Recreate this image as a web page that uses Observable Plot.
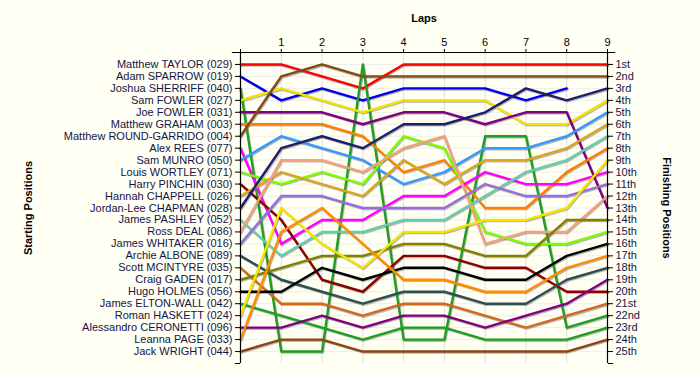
<!DOCTYPE html>
<html><head><meta charset="utf-8">
<script src="https://cdn.jsdelivr.net/npm/d3@7"></script>
<script src="https://cdn.jsdelivr.net/npm/@observablehq/plot@0.6"></script>
<style>
html,body{margin:0;padding:0;background:#fffff4;}
</style></head><body><div id="chart"></div>
<script>
const laps = [0,1,2,3,4,5,6,7,8,9];
const drivers = [
  "Matthew TAYLOR (029)","Adam SPARROW (019)","Joshua SHERRIFF (040)","Sam FOWLER (027)",
  "Joe FOWLER (031)","Matthew GRAHAM (003)","Matthew ROUND-GARRIDO (004)","Alex REES (077)",
  "Sam MUNRO (050)","Louis WORTLEY (071)","Harry PINCHIN (030)","Hannah CHAPPELL (026)",
  "Jordan-Lee CHAPMAN (028)","James PASHLEY (052)","Ross DEAL (086)","James WHITAKER (016)",
  "Archie ALBONE (089)","Scott MCINTYRE (035)","Craig GADEN (017)","Hugo HOLMES (056)",
  "James ELTON-WALL (042)","Roman HASKETT (024)","Alessandro CERONETTI (096)","Leanna PAGE (033)",
  "Jack WRIGHT (044)"
];
const colors = [
  "#ff0000","#0000ee","#1f9f1f","#f2e200","#800080","#ff8000","#834a12","#ff00ff",
  "#3399ff","#7cfc00","#8b0000","#daa520","#1e1e6e","#66cdaa","#f5a07c","#9370db",
  "#2f4f4f","#d2691e","#808000","#000000","#1f9f1f","#f5e600","#800080","#ff8c00",
  "#8b4513"
];
const finishLabels = ["1st","2nd","3rd","4th","5th","6th","7th","8th","9th","10th","11th","12th",
  "13th","14th","15th","16th","17th","18th","19th","20th","21st","22nd","23rd","24th","25th"];
// position of each driver at laps 0..9 (null = retired)
const positions = [
  [1,1,2,3,1,1,1,1,1,1],
  [2,4,3,4,3,3,3,4,3,null],
  [3,25,25,1,24,24,7,7,23,22],
  [4,3,4,5,4,4,4,6,6,4],
  [5,5,5,6,5,5,6,5,5,13],
  [6,6,6,7,10,9,13,13,10,8],
  [7,2,1,2,2,2,2,2,2,2],
  [8,16,14,14,12,12,10,11,11,10],
  [9,7,8,9,11,10,8,8,7,5],
  [10,11,10,11,7,8,15,16,16,15],
  [11,14,19,20,17,17,18,18,20,20],
  [12,10,11,12,9,11,9,9,8,6],
  [13,8,7,8,6,6,5,3,4,3],
  [14,17,15,15,14,14,12,10,9,7],
  [15,9,9,10,8,7,16,15,15,12],
  [16,12,12,13,13,13,11,12,12,11],
  [17,19,20,21,20,20,21,21,19,18],
  [18,21,21,22,21,21,22,23,22,21],
  [19,18,17,17,16,16,17,17,14,14],
  [20,20,18,19,18,18,19,19,17,16],
  [21,22,23,24,23,23,24,24,24,23],
  [22,13,16,18,15,15,14,14,13,9],
  [23,23,22,23,22,22,23,22,21,19],
  [24,15,13,16,19,19,20,20,18,17],
  [25,24,24,25,25,25,25,25,25,24]
];

const rows = d3.range(1, drivers.length + 1);
const data = [];
drivers.forEach((name, i) => positions[i].forEach((p, lap) => {
  if (p != null) data.push({driver: name, lap: laps[lap], pos: p});
}));

const textColor = "#141448";
const chart = Plot.plot({
  width: 700, height: 375,
  marginLeft: 240, marginRight: 93, marginTop: 52, marginBottom: 12,
  style: {background: "#fffff4", fontFamily: "'Liberation Sans', Arial, sans-serif", fontSize: "11px", overflow: "visible"},
  x: {domain: [0, 9]},
  y: {domain: [0, 26], reverse: true},
  color: {domain: drivers, range: colors},
  marks: [
    Plot.ruleX(laps.slice(1, -1), {y1: 0, y2: 26, stroke: "#e0e0e0"}),
    Plot.ruleY(rows, {x1: 0, x2: 9, stroke: "#efefea"}),
    Plot.lineY(data, {x: "lap", y: "pos", z: "driver", stroke: "#000", strokeOpacity: 0.28, strokeWidth: 2.6, dx: 0.8, dy: 1}),
    Plot.lineY(data, {x: "lap", y: "pos", z: "driver", stroke: "driver", strokeWidth: 2.4}),
    Plot.ruleX([0, 9], {y1: 0, y2: 26, stroke: "#000", strokeWidth: 1.2}),
    Plot.ruleY([0], {x1: -0.2, x2: 9.2, stroke: "#000", strokeWidth: 1.2}),
    Plot.axisX(laps, {anchor: "top", tickFormat: d => d === 0 ? "" : String(d), tickSize: 4, tickPadding: 3, label: null, fontSize: 11, stroke: "#000", fill: "#000"}),
    Plot.axisY([...rows, 26], {anchor: "left", tickFormat: d => d <= 25 ? drivers[d - 1] : "", tickSize: 5, tickPadding: 3, label: null, fontSize: 11, stroke: "#000", fill: textColor}),
    Plot.axisY([...rows, 26], {anchor: "right", tickFormat: d => d <= 25 ? finishLabels[d - 1] : "", tickSize: 5, tickPadding: 3, label: null, fontSize: 11, stroke: "#000", fill: textColor}),
    Plot.text(["Laps"], {frameAnchor: "top", dy: -34, textAnchor: "middle", lineAnchor: "middle", fontWeight: "bold", fontSize: 11, fill: "#000"}),
    Plot.text(["Starting Positions"], {frameAnchor: "left", dx: -212, rotate: -90, textAnchor: "middle", lineAnchor: "middle", fontWeight: "bold", fontSize: 11, fill: "#000"}),
    Plot.text(["Finishing Positions"], {frameAnchor: "right", dx: 59, rotate: 90, textAnchor: "middle", lineAnchor: "middle", fontWeight: "bold", fontSize: 11, fill: "#000"})
  ]
});
document.getElementById("chart").appendChild(chart);
</script>
</body></html>
